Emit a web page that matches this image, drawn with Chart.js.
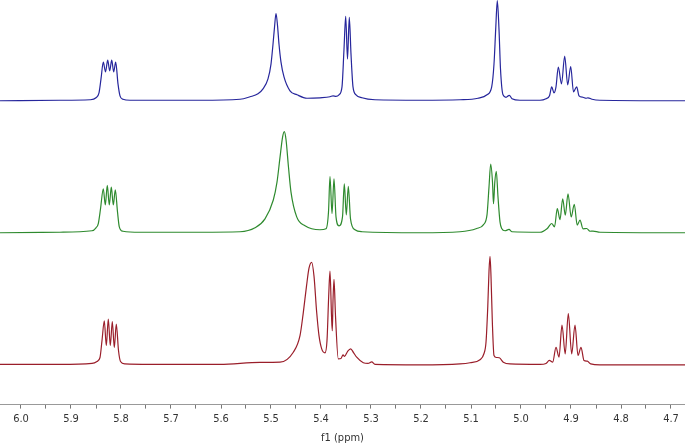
<!DOCTYPE html>
<html>
<head>
<meta charset="utf-8">
<script src="https://cdn.jsdelivr.net/npm/chart.js@4/dist/chart.umd.min.js"></script>
<style>
  body { margin: 0; background: #fff; }
  #wrap { width: 685px; height: 446px; }
</style>
</head>
<body>
<div id="wrap"><canvas id="nmr"></canvas></div>
<script>
// chemical shift (ppm) and intensity, one pair of arrays per spectrum
const blueShift = [6.042, 5.922, 5.862, 5.850, 5.844, 5.840, 5.8354, 5.831, 5.8266, 5.8226, 5.8186, 5.8146, 5.8106, 5.806, 5.802, 5.796, 5.782,
  5.642, 5.562, 5.542, 5.526, 5.516, 5.506, 5.500, 5.496, 5.493, 5.490, 5.487, 5.484, 5.480, 5.474, 5.462, 5.448, 5.428,
  5.402, 5.382, 5.376, 5.370, 5.364, 5.358, 5.354, 5.3506, 5.347, 5.3434, 5.340, 5.336, 5.330, 5.318, 5.292,
  5.202, 5.122, 5.086, 5.068, 5.0586, 5.054, 5.0506, 5.0474, 5.044, 5.041, 5.036, 5.030, 5.0234, 5.018, 5.002,
  4.962, 4.950, 4.943, 4.9386, 4.934, 4.930, 4.9254, 4.919, 4.9126, 4.9066, 4.9006, 4.895, 4.8886, 4.884, 4.876,
  4.870, 4.866, 4.858, 4.842, 4.672];
const blueIntensity = [0, 0.5, 1, 3, 8, 22, 39, 29, 41, 30, 41, 29, 39, 17, 5, 1.5, 0.5,
  0.5, 1.5, 4, 7, 12, 22, 37, 57, 74, 88, 76, 57, 39, 24, 10, 6, 2.5,
  3, 4, 5, 4.5, 6, 14, 52, 85, 42, 84, 47, 14, 6, 3, 1,
  0.5, 1, 2.5, 6, 14, 37, 72, 101, 72, 32, 6, 3.5, 5.5, 2, 0.5,
  0.5, 2, 5, 14, 8, 14, 34, 17, 45, 16, 34.5, 9, 14, 5, 3.5,
  2.5, 3, 1.5, 0.5, 0];

const greenShift = [6.042, 5.922, 5.858, 5.850, 5.8454, 5.841, 5.8354, 5.8314, 5.8274, 5.8234, 5.8194, 5.8154, 5.8114, 5.807, 5.8034, 5.796, 5.762,
  5.642, 5.562, 5.532, 5.512, 5.4954, 5.488, 5.482, 5.477, 5.4734, 5.470, 5.465, 5.460, 5.4486, 5.432, 5.402,
  5.390, 5.385, 5.382, 5.378, 5.374, 5.370, 5.364, 5.357, 5.3534, 5.3494, 5.3454, 5.341, 5.332, 5.318,
  5.202, 5.122, 5.0886, 5.0754, 5.068, 5.064, 5.0606, 5.057, 5.055, 5.0524, 5.0494, 5.046, 5.042, 5.0386, 5.032, 5.024, 5.018,
  4.962, 4.948, 4.9386, 4.933, 4.9274, 4.922, 4.9166, 4.9114, 4.906, 4.8996, 4.8934, 4.8876, 4.882, 4.876, 4.8686, 4.862, 4.856,
  4.842, 4.672];
const greenIntensity = [0, 0.5, 2, 5, 9.3, 24, 44.3, 28, 47.7, 28, 46, 28, 43.3, 21, 6, 1.5, 0.5,
  0.5, 1, 5, 14, 33, 51, 76, 96, 102, 94, 66, 41, 16, 7, 3,
  4, 21, 56.7, 19.3, 54.3, 16, 7, 16, 49.3, 18, 46.7, 14, 3, 1,
  0, 1, 4.3, 8, 18, 46, 69.3, 51, 29.3, 51, 62, 36, 11, 4.3, 2, 3.3, 1,
  0.5, 4, 9.3, 6, 24.3, 13.3, 34.3, 17.7, 39.3, 16, 28.7, 7.7, 12.7, 4, 4.3, 1.5, 1.7,
  0.5, 0];

const redShift = [6.042, 5.922, 5.858, 5.848, 5.842, 5.838, 5.8334, 5.8294, 5.8254, 5.8214, 5.8174, 5.8134, 5.8094, 5.805, 5.801, 5.792, 5.742,
  5.602, 5.522, 5.482, 5.4554, 5.442, 5.4354, 5.429, 5.424, 5.4186, 5.414, 5.4086, 5.404, 5.3986, 5.392,
  5.388, 5.3846, 5.382, 5.379, 5.3774, 5.376, 5.374, 5.371, 5.3654, 5.360, 5.356, 5.353, 5.347, 5.3406, 5.335, 5.3286,
  5.3154, 5.306, 5.2986, 5.292, 5.202, 5.122, 5.102, 5.082, 5.074, 5.070, 5.0664, 5.064, 5.062, 5.060, 5.0574, 5.054,
  5.049, 5.0434, 5.0354, 5.022, 4.962, 4.950, 4.9434, 4.9366, 4.930, 4.924, 4.918, 4.9116, 4.9054, 4.8986, 4.892,
  4.886, 4.880, 4.874, 4.8674, 4.8606, 4.842, 4.672];
const redIntensity = [1, 1, 2, 4, 8, 25, 45, 20, 46.7, 20, 44.3, 18, 41.7, 15, 4, 1.5, 1,
  1, 3, 3.3, 13.3, 30, 53.3, 80, 98, 104, 90, 53.3, 30, 16.7, 12.7,
  25, 70, 95, 50, 35, 65, 86.7, 50, 6.7, 7, 10.7, 9, 14, 16.7, 13, 8.3,
  2.7, 2, 3.5, 1, 0.5, 1.5, 2.7, 5.7, 12, 23.3, 60, 95, 110, 90, 45, 10,
  8, 7.7, 3.3, 1.5, 1, 2, 5, 3.3, 18.3, 8.3, 40.7, 11.7, 52.3, 11.7, 40.7,
  10, 18.3, 5, 4.3, 1.5, 0.5, 0.5];

const spectra = [
  { id: 'yBlue', shift: blueShift, intensity: blueIntensity, color: '#26269c' },
  { id: 'yGreen', shift: greenShift, intensity: greenIntensity, color: '#2e8a2e' },
  { id: 'yRed', shift: redShift, intensity: redIntensity, color: '#9a1e2a' }
];

const tickFont = { family: "'DejaVu Sans Condensed', 'DejaVu Sans', sans-serif", size: 11 };

const datasets = spectra.map(s => ({
  data: s.shift.map((x, i) => ({ x: x, y: s.intensity[i] })),
  yAxisID: s.id,
  borderColor: s.color,
  borderWidth: 1.2,
  pointRadius: 0,
  cubicInterpolationMode: 'monotone',
  clip: false,
  fill: false
}));

// one hidden y axis per spectrum, stacked so the traces sit one above the other
const yAxis = (min, max) => ({
  type: 'linear',
  position: 'left',
  stack: 'nmr',
  stackWeight: 1,
  display: false,
  min: min,
  max: max
});

new Chart(document.getElementById('nmr'), {
  type: 'line',
  data: { datasets: datasets },
  options: {
    responsive: true,
    maintainAspectRatio: false,
    animation: false,
    layout: { padding: 0 },
    plugins: { legend: { display: false }, tooltip: { enabled: false } },
    scales: {
      x: {
        type: 'linear',
        reverse: true,
        min: 4.672,
        max: 6.042,
        grid: { drawOnChartArea: false, drawTicks: true, tickLength: 4, color: '#777' },
        border: { color: '#999' },
        ticks: {
          stepSize: 0.05,
          includeBounds: false,
          autoSkip: false,
          maxRotation: 0,
          color: '#333',
          font: tickFont,
          padding: 4,
          callback: v => (Math.round(v * 20) % 2 === 0 ? v.toFixed(1) : '')
        },
        title: { display: true, text: 'f1 (ppm)', color: '#333', font: tickFont, padding: { top: 2, bottom: 1 } }
      },
      yRed: yAxis(-39.5, 96.5),
      yGreen: yAxis(-37.3, 98.7),
      yBlue: yAxis(-34.4, 101.6)
    }
  }
});
</script>
</body>
</html>
